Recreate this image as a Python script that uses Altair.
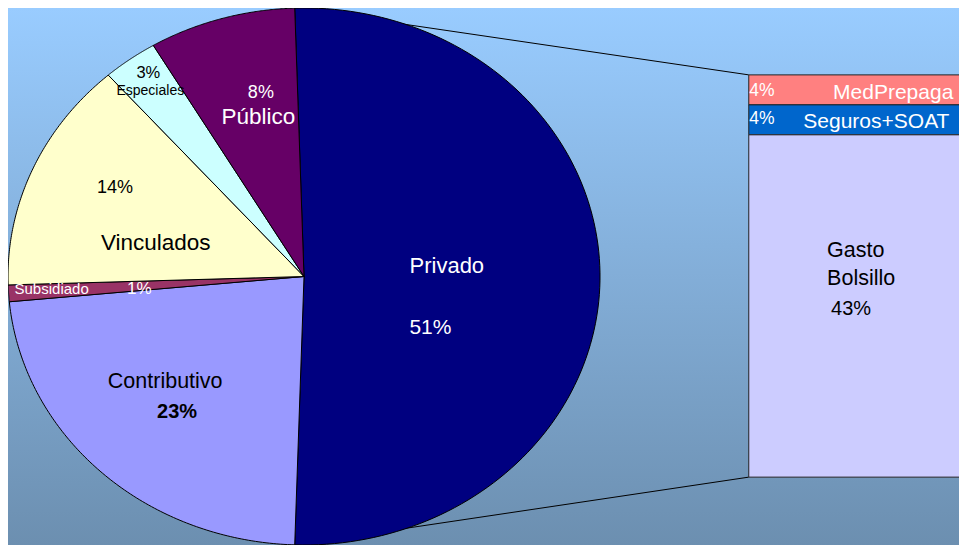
import math
import altair as alt
import pandas as pd

# ---------------- data ----------------
pie_names = ["Privado", "Contributivo", "Subsidiado", "Vinculados", "Especiales", "Público"]
pie_values = [51, 23, 1, 14, 3, 8]
pie_colors = ["#000080", "#9999FF", "#993366", "#FFFFCC", "#CCFFFF", "#660066"]

bar_names = ["MedPrepaga", "Seguros+SOAT", "Gasto Bolsillo"]
bar_values = [3.8, 3.8, 43.4]
bar_colors = ["#FF8080", "#0066CC", "#CCCCFF"]

# ---------------- layout ----------------
# the chart must fit inside the 967x553 page with its 8px margins
W, H = 951, 537
SX, SY = W / 959, H / 546


def fx(X):  # reference-page x -> chart x
    return (X - 8) * SX


def fy(Y):  # reference-page y -> chart y
    return (Y - 7) * SY


CX, CY, RX, RY = fx(306.5), fy(280), 298.5 * SX, 273 * SY
BAR_X0, BAR_X1, BAR_Y0, BAR_Y1 = fx(755), W + 60, fy(75), fy(484)
N = 120
FONT = "Liberation Sans"

# background gradient
bg = alt.Chart(pd.DataFrame({"a": [0]})).mark_rect(
    color=alt.LinearGradient(
        gradient="linear",
        stops=[alt.GradientStop(color="#99CCFF", offset=0),
               alt.GradientStop(color="#6C8FB0", offset=1)],
        x1=0, x2=0, y1=0, y2=1,
    )
).encode(x=alt.value(0), x2=alt.value(W), y=alt.value(0), y2=alt.value(H))

# connector lines from the split slice to the bar
total = sum(pie_values)
a0 = math.pi / 2 - math.pi * pie_values[0] / total
a1 = a0 + 2 * math.pi * pie_values[0] / total
conn_df = pd.DataFrame({
    "x1": [CX + RX * math.sin(a0), CX + RX * math.sin(a1)],
    "y1": [CY - RY * math.cos(a0), CY - RY * math.cos(a1)],
    "x2": [BAR_X0, BAR_X0],
    "y2": [BAR_Y0, BAR_Y1],
})
connectors = alt.Chart(conn_df).mark_rule(color="black", strokeWidth=1).encode(
    x=alt.X("x1:Q", scale=None), y=alt.Y("y1:Q", scale=None),
    x2="x2:Q", y2="y2:Q",
)

# pie (elliptical) slices built from the shares
pie_df = pd.DataFrame({"name": pie_names, "value": pie_values, "idx": list(range(len(pie_names)))})
pie = (
    alt.Chart(pie_df)
    .transform_window(cum="sum(value)", sort=[alt.SortField("idx")], frame=[None, 0])
    .transform_window(first="first_value(value)", sort=[alt.SortField("idx")], frame=[None, None])
    .transform_joinaggregate(total="sum(value)")
    .transform_calculate(a0="2*PI*(datum.cum - datum.value)/datum.total + PI/2 - PI*datum.first/datum.total")
    .transform_calculate(a1="datum.a0 + 2*PI*datum.value/datum.total")
    .transform_calculate(steps=f"sequence(0, {N + 2})")
    .transform_flatten(["steps"], as_=["k"])
    .transform_calculate(ang=f"datum.a0 + (datum.a1 - datum.a0)*clamp((datum.k - 1)/{N - 1}, 0, 1)")
    .transform_calculate(onarc=f"datum.k >= 1 && datum.k <= {N}")
    .transform_calculate(ux="datum.onarc ? sin(datum.ang) : 0")
    .transform_calculate(uy="datum.onarc ? cos(datum.ang) : 0")
    .mark_line(stroke="black", strokeWidth=1, strokeJoin="round")
    .encode(
        x=alt.X("ux:Q", scale=alt.Scale(domain=[-1, 1], range=[CX - RX, CX + RX], nice=False), axis=None),
        y=alt.Y("uy:Q", scale=alt.Scale(domain=[-1, 1], range=[CY + RY, CY - RY], nice=False), axis=None),
        fill=alt.Fill("name:N", scale=alt.Scale(domain=pie_names, range=pie_colors), legend=None),
        order=alt.Order("k:Q"),
    )
)

# bar of the split slice
bar_df = pd.DataFrame({"bname": bar_names, "bvalue": bar_values, "bidx": list(range(len(bar_names)))})
bar = (
    alt.Chart(bar_df)
    .transform_window(bcum="sum(bvalue)", sort=[alt.SortField("bidx")], frame=[None, 0])
    .transform_calculate(bstart="datum.bcum - datum.bvalue")
    .mark_rect(stroke="#222222", strokeWidth=1, clip=True)
    .encode(
        x=alt.value(BAR_X0), x2=alt.value(BAR_X1),
        y=alt.Y("bstart:Q", scale=alt.Scale(domain=[0, sum(bar_values)], range=[BAR_Y0, BAR_Y1],
                                              nice=False, zero=False), axis=None),
        y2="bcum:Q",
        fill=alt.Fill("bname:N", scale=alt.Scale(domain=bar_names, range=bar_colors), legend=None),
    )
)


def label(text, X, Y, size, color, align="center", weight="normal", line_break=None):
    kw = dict(font=FONT, fontSize=size, color=color, align=align, baseline="alphabetic",
              fontWeight=weight)
    if line_break:
        kw["lineBreak"] = line_break
        kw["lineHeight"] = 29 * SY
    return alt.Chart(pd.DataFrame({"t": [text]})).mark_text(**kw).encode(
        x=alt.value(fx(X)), y=alt.value(fy(Y)), text="t:N")


def pct(v):
    return f"{v:g}%"


pv = dict(zip(pie_names, pie_values))
bv = dict(zip(bar_names, bar_values))

texts = [
    label("Privado", 450.5, 276, 22, "white"),
    label(pct(pv["Privado"]), 434, 338.5, 21, "white"),
    label("Contributivo", 166.5, 393.7, 21.5, "black"),
    label(pct(pv["Contributivo"]), 178.5, 424, 20, "black", weight="bold"),
    label(pct(pv["Vinculados"]), 116, 195, 18, "black"),
    label("Vinculados", 157, 252.7, 22.5, "black"),
    label("Subsidiado", 52, 298, 15, "white"),
    label(pct(pv["Subsidiado"]), 140.5, 298, 17, "white"),
    label(pct(pv["Especiales"]), 149.5, 78, 16.5, "black"),
    label("Especiales", 151.5, 95.5, 14, "black"),
    label(pct(pv["Público"]), 263, 99, 18, "white"),
    label("Público", 260.5, 125, 22.5, "white"),
    label(f"{round(bv['MedPrepaga'])}%", 755.5, 96, 17.5, "white", align="left"),
    label("MedPrepaga", 840, 99.3, 21, "white", align="left"),
    label(f"{round(bv['Seguros+SOAT'])}%", 755.5, 125, 17.5, "white", align="left"),
    label("Seguros+SOAT", 810, 129.3, 21, "white", align="left"),
    label("Gasto Bolsillo", 834, 260, 21.5, "black", align="left", line_break=" "),
    label(f"{round(bv['Gasto Bolsillo'])}%", 838, 318.7, 20, "black", align="left"),
]

chart = (
    alt.layer(bg, connectors, pie, bar, *texts)
    .resolve_scale(x="independent", y="independent", fill="independent")
    .properties(width=W, height=H, autosize=alt.AutoSizeParams(type="none"), padding=0,
                background="white")
    .configure_view(strokeWidth=0)
)

chart.save("out.html", embed_options={"renderer": "svg", "actions": False})
